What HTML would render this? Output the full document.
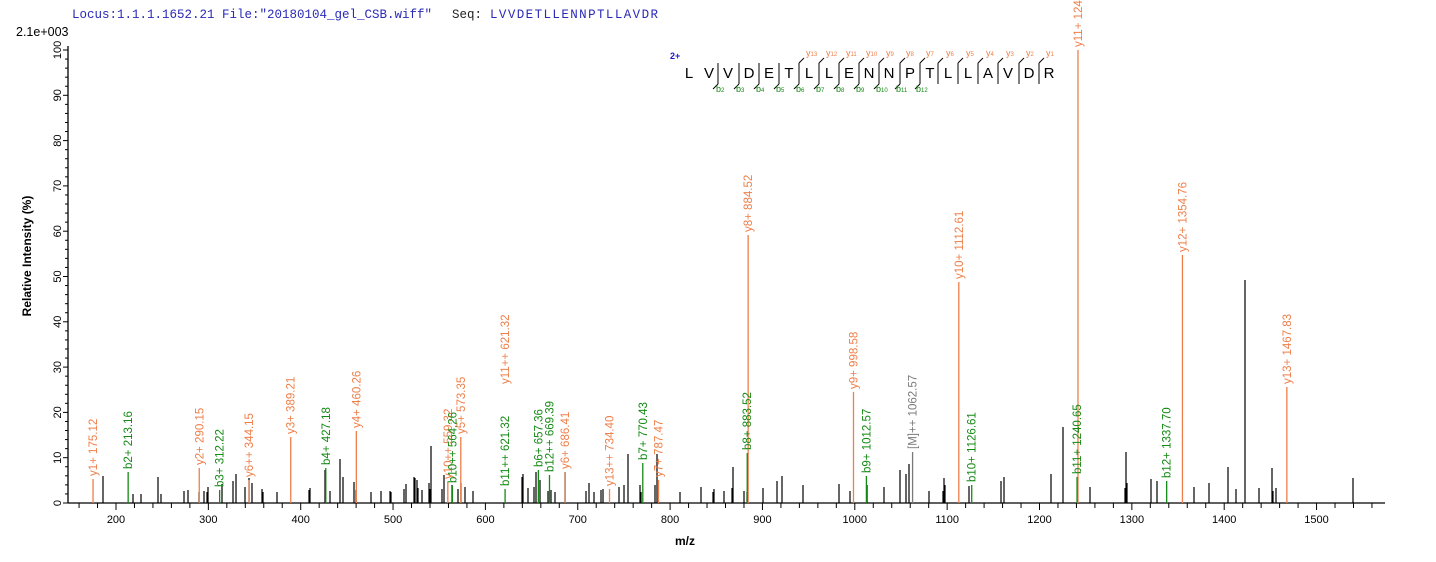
<!DOCTYPE html>
<html><head><meta charset="utf-8"><style>
html,body{margin:0;padding:0;background:#fff;}
svg{display:block;font-family:"Liberation Sans",Arial,sans-serif;}
</style></head><body>
<svg id="s" width="1436" height="562" xmlns="http://www.w3.org/2000/svg">
<text x="72" y="18" font-family="Liberation Mono, monospace" font-size="12.5" fill="#2a2ab8">Locus:1.1.1.1652.21 File:"20180104_gel_CSB.wiff"</text>
<text x="452" y="18" font-family="Liberation Mono, monospace" font-size="12.5" fill="#222">Seq:</text>
<text x="490" y="18" font-family="Liberation Mono, monospace" font-size="12.5" fill="#2a2ab8" textLength="168">LVVDETLLENNPTLLAVDR</text>
<text x="16" y="36" font-size="12.5" fill="#000">2.1e+003</text>
<text transform="translate(31,256) rotate(-90)" text-anchor="middle" font-size="12" font-weight="bold">Relative   Intensity (%)</text>
<text x="685" y="545" text-anchor="middle" font-size="12" font-weight="bold">m/z</text>
<g id="g"></g>
</svg>
<script>
var NS="http://www.w3.org/2000/svg",g=document.getElementById('g');
function el(t,a,txt){var e=document.createElementNS(NS,t);for(var k in a)e.setAttribute(k,a[k]);if(txt!==undefined)e.textContent=txt;g.appendChild(e);return e;}
function X(m){return 116+(m-200)*0.9235;}
var Y0=503,PY=4.53;
el('line',{x1:68,y1:Y0,x2:1385,y2:Y0,stroke:'#000','stroke-width':1.3});
el('line',{x1:68,y1:46,x2:68,y2:Y0,stroke:'#000','stroke-width':1.3});
for(var p=0;p<=100;p+=2){var y=Y0-p*PY;var maj=p%10==0;el('line',{x1:maj?63:65,y1:y,x2:68,y2:y,stroke:'#000'});
 if(maj)el('text',{transform:'translate(61,'+y+') rotate(-90)','text-anchor':'middle','font-size':11},p);}
for(var m=160;m<=1560;m+=20){var x=X(m);var maj=m%100==0;el('line',{x1:x,y1:Y0,x2:x,y2:Y0+(maj?7:5),stroke:'#000'});
 if(maj)el('text',{x:x,y:523,'text-anchor':'middle','font-size':11},m);}
var blk=[[103,476],[133,494],[141,494],[158,477],[161,494],[184,491],[188,490],[199,492],[204,491],[207,492],[208,487],[222,484],[233,481],[236,474],[245,487],[249,478],[252,483],[262,489],[263,492],[277,492],[309,490],[310,488],[325,470],[330,491],[340,459],[343,477],[354,482],[356,490],[371,492],[381,491],[390,491],[391,492],[404,489],[406,484],[414,477],[415,478],[417,480],[418,488],[422,490],[429,483],[430,489],[431,446],[442,489],[444,475],[452,485],[458,489],[461,483],[465,487],[473,491],[522,477],[523,474],[528,488],[534,487],[536,472],[540,480],[548,491],[551,490],[555,492],[565,472],
[586,491],[589,483],[594,492],[601,490],[603,489],[619,487],[624,485],[628,454],[640,485],[641,492],[655,485],[657,454],[680,492],[701,487],[713,492],[714,489],[724,491],[732,488],[733,467],[744,491],[747,492],[763,488],[777,481],[782,476],[803,485],[839,484],[850,491],[867,485],[884,487],[900,470],[906,474],[909,464],[929,491],[943,491],[944,478],[945,485],[969,486],[1001,481],[1004,477],[1051,474],[1063,427],[1090,487],[1125,488],[1126,452],[1127,483],[1151,479],[1157,481],[1194,487],[1209,483],[1228,467],[1236,489],[1245,280],[1259,488],[1272,468],[1273,491],[1276,488],[1353,478]];
blk.forEach(function(b){el('line',{x1:b[0],y1:b[1],x2:b[0],y2:Y0,stroke:'#000','stroke-width':1.2});});
var O='#ee7f4a',G='#148a14',Gr='#7a7a7a';
var lab=[[175.12,479,O,'y1+ 175.12'],[213.16,472,G,'b2+ 213.16'],[290.15,468,O,'y2+ 290.15'],[312.22,490,G,'b3+ 312.22'],[344.15,480,O,'y6++ 344.15'],[389.21,437,O,'y3+ 389.21'],[427.18,468,G,'b4+ 427.18'],[460.26,431,O,'y4+ 460.26'],[559.32,482,O,'y10++ 559.32'],[564.26,486,G,'b10++ 564.26'],[573.35,437,O,'y5+ 573.35'],[621.32,489,G,'b11++ 621.32'],[657.36,470,G,'b6+ 657.36'],[669.39,475,G,'b12++ 669.39'],[686.41,472,O,'y6+ 686.41'],[734.40,489,O,'y13++ 734.40'],[770.43,463,G,'b7+ 770.43'],[787.47,480,O,'y7+ 787.47'],[884.52,235,O,'y8+ 884.52'],[883.52,453,G,'b8+ 883.52'],[998.58,392,O,'y9+ 998.58'],[1012.57,476,G,'b9+ 1012.57'],[1062.57,452,Gr,'[M]++ 1062.57'],[1112.61,282,O,'y10+ 1112.61'],[1126.61,485,G,'b10+ 1126.61'],[1241.66,50,O,'y11+ 1241.66'],[1240.65,477,G,'b11+ 1240.65'],[1337.70,481,G,'b12+ 1337.70'],[1354.76,255,O,'y12+ 1354.76'],[1467.83,387,O,'y13+ 1467.83']];
lab.forEach(function(l){var x=X(l[0]);var yt=l[1];el('line',{x1:x,y1:yt,x2:x,y2:Y0,stroke:l[2],'stroke-width':1.3});
 el('text',{transform:'translate('+(x+4)+','+(yt-3)+') rotate(-90)','font-size':11.5,fill:l[2]},l[3]);});
el('text',{transform:'translate('+(X(621.32)+4)+',384) rotate(-90)','font-size':11.5,fill:O},'y11++ 621.32');
var seq='LVVDETLLENNPTLLAVDR',xs=[689,709,728,749,769,789,809,829,849,869,889,910,930,948,968,988,1008,1029,1049];
el('text',{x:670,y:59,'font-size':9,'font-weight':'bold',fill:'#1a1acc'},'2+');
for(var i=0;i<seq.length;i++){el('text',{x:xs[i],y:78,'text-anchor':'middle','font-size':15},seq[i]);
 if(i>=2){var bx=xs[i]-10;el('line',{x1:bx,y1:63,x2:bx,y2:84,stroke:'#000'});
  if(i<=12)el('line',{x1:bx,y1:84,x2:bx-5,y2:89,stroke:'#000'});
  if(i>=6)el('line',{x1:bx,y1:63,x2:bx+5,y2:58,stroke:'#000'});}}
for(var k=0;k<13;k++){var t=el('text',{x:806+k*20,y:56,'font-size':9,fill:O},'y');var s=document.createElementNS(NS,'tspan');s.setAttribute('font-size',6);s.textContent=(13-k);t.appendChild(s);}
for(var k=0;k<11;k++){var t=el('text',{x:716+k*20,y:92,'font-size':9,fill:G},'b');var s=document.createElementNS(NS,'tspan');s.setAttribute('font-size',6);s.textContent=(k+2);t.appendChild(s);}
</script>
</body></html>
